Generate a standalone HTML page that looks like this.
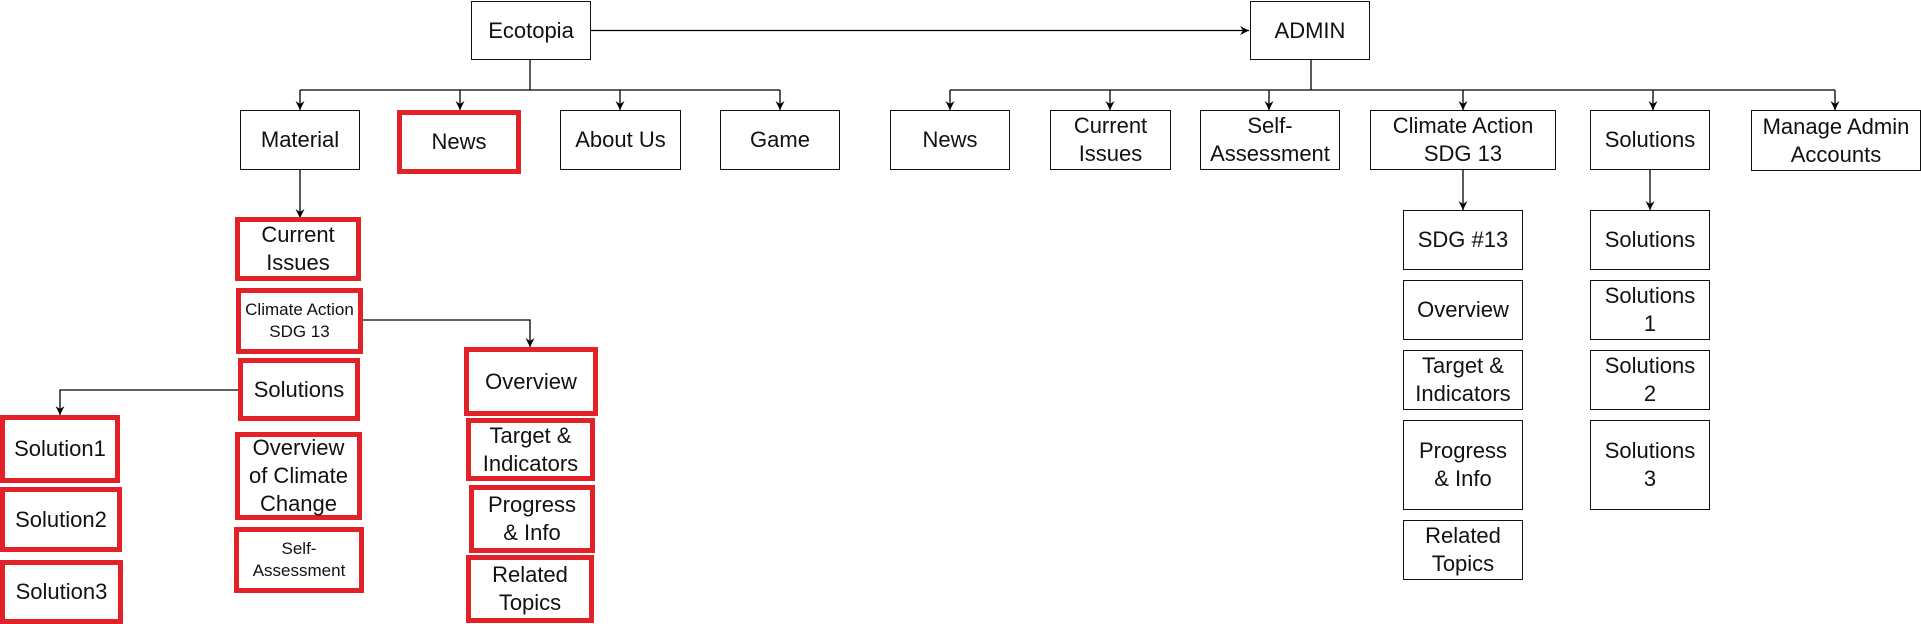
<!DOCTYPE html>
<html><head><meta charset="utf-8"><style>
html,body{margin:0;padding:0;background:#fff;}
body{width:1921px;height:621px;position:relative;overflow:hidden;font-family:"Liberation Sans",Arial,sans-serif;color:#111;}
.b,.r{position:absolute;box-sizing:border-box;display:flex;align-items:center;justify-content:center;text-align:center;font-size:22px;line-height:28px;background:#fff;}
.b{border:1.5px solid #111;}
.r{border:5px solid #e32129;}
.s{font-size:17px;line-height:22px;}
svg{position:absolute;left:0;top:0;}
</style></head><body>
<svg width="1921" height="621">
<defs><marker id="a" markerWidth="12" markerHeight="12" refX="6" refY="10" orient="0" markerUnits="userSpaceOnUse"><path d="M1.5,1 L6,10 L10.5,1 L6,4 Z" fill="#000"/></marker>
<marker id="h" markerWidth="12" markerHeight="12" refX="10" refY="6" orient="0" markerUnits="userSpaceOnUse"><path d="M1,1.5 L10,6 L1,10.5 L4,6 Z" fill="#000"/></marker></defs>
<g stroke="#000" stroke-width="1.3" fill="none">
<line x1="591" y1="30.5" x2="1249" y2="30.5" marker-end="url(#h)"/>
<line x1="530" y1="60" x2="530" y2="90"/>
<line x1="300" y1="90" x2="780" y2="90"/>
<line x1="300" y1="90" x2="300" y2="110" marker-end="url(#a)"/>
<line x1="460" y1="90" x2="460" y2="110" marker-end="url(#a)"/>
<line x1="620" y1="90" x2="620" y2="110" marker-end="url(#a)"/>
<line x1="780" y1="90" x2="780" y2="110" marker-end="url(#a)"/>
<line x1="300" y1="170" x2="300" y2="218" marker-end="url(#a)"/>
<polyline points="363,320 530,320 530,347" marker-end="url(#a)"/>
<polyline points="238,390 60,390 60,415" marker-end="url(#a)"/>
<line x1="1311" y1="60" x2="1311" y2="90"/>
<line x1="950" y1="90" x2="1835" y2="90"/>
<line x1="950" y1="90" x2="950" y2="110" marker-end="url(#a)"/>
<line x1="1110" y1="90" x2="1110" y2="110" marker-end="url(#a)"/>
<line x1="1269" y1="90" x2="1269" y2="110" marker-end="url(#a)"/>
<line x1="1463" y1="90" x2="1463" y2="110" marker-end="url(#a)"/>
<line x1="1653" y1="90" x2="1653" y2="110" marker-end="url(#a)"/>
<line x1="1835" y1="90" x2="1835" y2="110" marker-end="url(#a)"/>
<line x1="1463" y1="170" x2="1463" y2="210" marker-end="url(#a)"/>
<line x1="1650" y1="170" x2="1650" y2="210" marker-end="url(#a)"/>
</g></svg>

<div class="b" style="left:471px;top:1px;width:120px;height:59px">Ecotopia</div>
<div class="b" style="left:1250px;top:1px;width:120px;height:59px">ADMIN</div>

<div class="b" style="left:240px;top:110px;width:120px;height:60px">Material</div>
<div class="r" style="left:397px;top:110px;width:124px;height:64px">News</div>
<div class="b" style="left:560px;top:110px;width:121px;height:60px">About Us</div>
<div class="b" style="left:720px;top:110px;width:120px;height:60px">Game</div>

<div class="r" style="left:235px;top:217px;width:126px;height:64px">Current<br>Issues</div>
<div class="r s" style="left:236px;top:288px;width:127px;height:66px">Climate Action<br>SDG 13</div>
<div class="r" style="left:238px;top:358px;width:122px;height:63px">Solutions</div>
<div class="r" style="left:235px;top:432px;width:127px;height:88px">Overview<br>of Climate<br>Change</div>
<div class="r s" style="left:234px;top:527px;width:130px;height:66px">Self-<br>Assessment</div>

<div class="r" style="left:0px;top:415px;width:120px;height:68px">Solution1</div>
<div class="r" style="left:0px;top:487px;width:122px;height:65px">Solution2</div>
<div class="r" style="left:0px;top:560px;width:123px;height:64px">Solution3</div>

<div class="r" style="left:464px;top:347px;width:134px;height:69px">Overview</div>
<div class="r" style="left:466px;top:418px;width:129px;height:63px">Target &amp;<br>Indicators</div>
<div class="r" style="left:469px;top:485px;width:126px;height:68px">Progress<br>&amp; Info</div>
<div class="r" style="left:466px;top:555px;width:128px;height:68px">Related<br>Topics</div>

<div class="b" style="left:890px;top:110px;width:120px;height:60px">News</div>
<div class="b" style="left:1050px;top:110px;width:121px;height:60px">Current<br>Issues</div>
<div class="b" style="left:1200px;top:110px;width:140px;height:60px">Self-<br>Assessment</div>
<div class="b" style="left:1370px;top:110px;width:186px;height:60px">Climate Action<br>SDG 13</div>
<div class="b" style="left:1590px;top:110px;width:120px;height:60px">Solutions</div>
<div class="b" style="left:1751px;top:110px;width:170px;height:61px">Manage Admin<br>Accounts</div>

<div class="b" style="left:1403px;top:210px;width:120px;height:60px">SDG #13</div>
<div class="b" style="left:1403px;top:280px;width:120px;height:60px">Overview</div>
<div class="b" style="left:1403px;top:350px;width:120px;height:60px">Target &amp;<br>Indicators</div>
<div class="b" style="left:1403px;top:420px;width:120px;height:90px">Progress<br>&amp; Info</div>
<div class="b" style="left:1403px;top:520px;width:120px;height:60px">Related<br>Topics</div>

<div class="b" style="left:1590px;top:210px;width:120px;height:60px">Solutions</div>
<div class="b" style="left:1590px;top:280px;width:120px;height:60px">Solutions<br>1</div>
<div class="b" style="left:1590px;top:350px;width:120px;height:60px">Solutions<br>2</div>
<div class="b" style="left:1590px;top:420px;width:120px;height:90px">Solutions<br>3</div>
</body></html>
